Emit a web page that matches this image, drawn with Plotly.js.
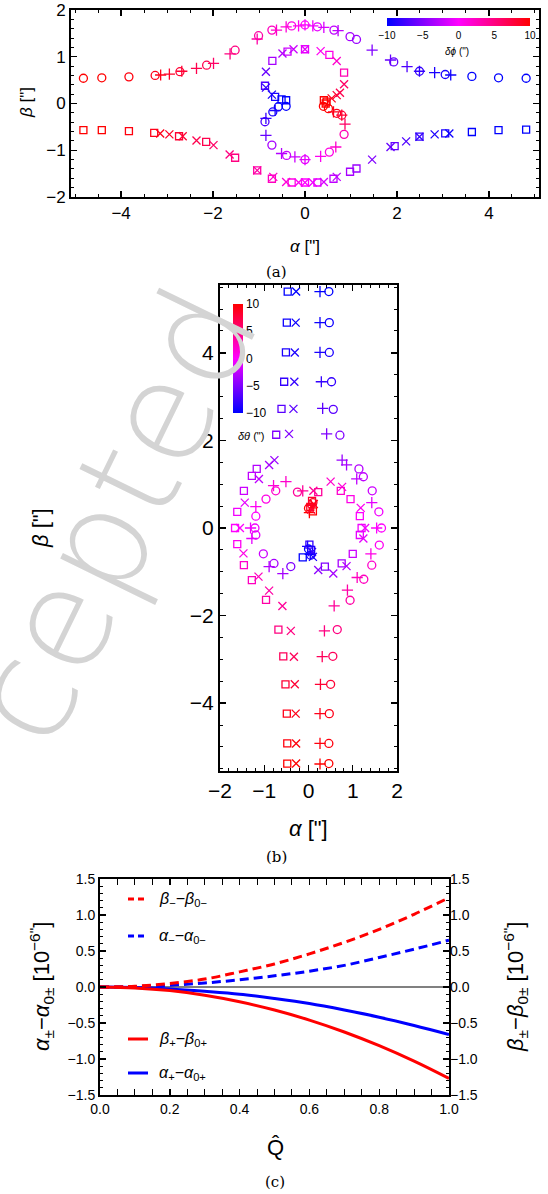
<!DOCTYPE html>
<html>
<head>
<meta charset="utf-8">
<script src="https://cdn.plot.ly/plotly-3.0.1.min.js"></script>
<style>html,body{margin:0;padding:0;background:#fff;}#chart{width:548px;height:1194px;}</style>
</head>
<body>
<div id="chart"></div>
<script>
// ---------- Panel (a): image positions (alpha, beta) and colour value delta-phi ----------
var aCircX = [-4.82,-4.42,-3.83,-3.26,-2.72,-2.14,-1.52,-1.01,-0.72,-0.29,0,0.27,0.63,0.98,1.12,1.93,2.49,3.05,3.63,4.21,4.81, -0.87,-0.72,-0.40,0,0.53,0.85, -0.70,-0.58,-0.41, 0.40,0.51,0.69,0.80];
var aCircY = [0.54,0.55,0.57,0.60,0.68,0.82,1.14,1.45,1.57,1.66,1.68,1.64,1.57,1.43,1.37,0.89,0.69,0.62,0.58,0.55,0.54, -0.39,-0.89,-1.11,-1.20,-1.04,-0.66, -0.18,-0.07,-0.06, -0.06,-0.11,-0.21,-0.25];
var aCircC = [10,10,9.5,9,8,7,5,3.5,2.5,1,0,-1,-2.5,-3.5,-4,-6,-8,-9,-10,-10,-10, -7,-3.5,-2,-1,1,3, -9,-10,-10, 10,10,9,8];

var aPlusX = [-3.14,-2.95,-2.68,-2.36,-1.99,-1.63,-1.04,-0.62,-0.41,-0.14,0,0.17,0.41,0.72,1.46,1.86,2.22,2.49,2.82,3.17, -0.85,-0.51,-0.22,0,0.34,0.67,0.87, -0.85,-0.65, 0.62,0.80];
var aPlusY = [0.61,0.63,0.69,0.75,0.86,1.06,1.38,1.57,1.64,1.66,1.68,1.66,1.63,1.56,1.14,0.93,0.79,0.69,0.66,0.61, -0.68,-1.07,-1.14,-1.20,-1.13,-0.93,-0.44, -0.32,-0.15, -0.18,-0.25];
var aPlusC = [9,8.5,8,7,6,5,3.5,2,1.5,0.5,0,-0.5,-1.5,-2.5,-5,-6,-7,-8,-9,-9.5, -6,-3,-2,-1,0.5,2,6, -8,-9, 9,8];

var aSqX = [-4.82,-4.42,-3.83,-3.28,-2.74,-2.15,-1.52,-1.04,-0.72,-0.29,0,0.27,0.62,0.98,1.12,1.95,2.49,3.05,3.63,4.21,4.81, -0.87,-0.71,-0.38,0,0.53,0.85, -0.65,-0.51,-0.41, 0.41,0.45,0.47];
var aSqY = [-0.57,-0.57,-0.59,-0.63,-0.70,-0.82,-1.16,-1.43,-1.61,-1.69,-1.69,-1.69,-1.61,-1.46,-1.39,-0.91,-0.71,-0.64,-0.61,-0.57,-0.56, 0.38,0.91,1.11,1.16,1.04,0.66, 0.14,0.09,0.07, 0.07,0.0,0.04];
var aSqC = [10,10,9.5,9,8,7,5,3.5,2.5,1,0,-1,-2.5,-3.5,-4,-6,-8,-9,-10,-10,-10, -7,-3.5,-2,-1,1,3, -9,-10,-10, 10,10,10];

var aXX = [-3.15,-2.95,-2.66,-2.36,-1.99,-1.64,-1.04,-0.69,-0.41,-0.14,0,0.17,0.41,0.69,1.46,1.86,2.20,2.49,2.82,3.14, -0.85,-0.49,-0.25,0,0.34,0.69,0.85, -0.85,-0.72, 0.58,0.69,0.76];
var aXY = [-0.64,-0.66,-0.70,-0.79,-0.89,-1.09,-1.43,-1.57,-1.68,-1.69,-1.69,-1.69,-1.68,-1.57,-1.20,-0.93,-0.81,-0.71,-0.66,-0.64, 0.68,1.07,1.16,1.16,1.12,0.91,0.41, 0.34,0.19, 0.11,0.18,0.23];
var aXC = [9,8.5,8,7,6,5,3.5,2,1.5,0.5,0,-0.5,-1.5,-2.5,-5,-6,-7,-8,-9,-9.5, -6,-3,-2,-1,0.5,2,6, -8,-9, 9,8,7];

// ---------- Panel (b): image positions and colour value delta-theta ----------
var bSqX = [-0.47,-0.49,-0.51,-0.55,-0.61,-0.73,-1.17,-1.28,-1.46,-1.61,-1.66,-1.61,-1.46,-1.28,-0.96,-0.68,-0.57,-0.52,-0.49,-0.48,-0.48, 0.22,0.73,0.95,1.16,1.20,1.16,1.00,0.75,0.37, 0.08,0.04,0.10, 0.02,0.06,-0.13];
var bSqY = [5.40,4.69,4.01,3.34,2.72,2.13,1.35,1.19,0.85,0.37,0,-0.37,-0.85,-1.19,-1.64,-2.32,-2.93,-3.57,-4.24,-4.92,-5.38, 0.82,0.85,0.66,0.27,0,-0.16,-0.59,-0.81,-0.88, 0.62,0.48,0.38, -0.38,-0.50,-0.67];
var bSqC = [-10,-9.5,-9,-8,-6.5,-5,-3,-2.5,-2,-0.5,0,0.5,2,2.5,3.5,5,6.5,8,9,9.5,10, 4,2,1,0,-0.5,-1,-2,-3.5,-5, 8,9,10, -8,-9,-10];

var bXX = [-0.28,-0.29,-0.31,-0.32,-0.34,-0.44,-0.77,-0.89,-1.12,-1.44,-1.55,-1.47,-1.13,-0.89,-0.59,-0.40,-0.33,-0.31,-0.29,-0.28,-0.28, 0.11,0.50,0.76,1.18,1.28,1.24,0.86,0.56,0.22, 0.12,0.06, 0.08,0.10];
var bXY = [5.40,4.69,4.01,3.34,2.72,2.15,1.55,1.44,1.12,0.58,0,-0.58,-1.11,-1.43,-1.78,-2.35,-2.94,-3.57,-4.24,-4.92,-5.38, 0.85,1.06,0.94,0.46,0,-0.24,-0.87,-1.04,-0.96, 0.55,0.42, -0.55,-0.66];
var bXC = [-10,-9.5,-9,-8,-6.5,-5,-4,-3.5,-2.5,-1,0,1,2.5,3.5,4,5,6.5,8,9,9.5,10, 4,2,1.5,0.5,-0.5,-1,-3,-3.5,-4.5, 9,8, -8,-9];

var bPlusX = [0.26,0.26,0.26,0.29,0.32,0.41,0.76,0.86,1.09,1.43,1.54,1.41,1.10,0.88,0.58,0.36,0.31,0.27,0.26,0.26,0.26, -0.13,-0.51,-0.79,-1.19,-1.31,-1.28,-0.89,-0.58, 0.02,0.06, -0.02,0.04];
var bPlusY = [5.40,4.69,4.01,3.34,2.73,2.15,1.55,1.44,1.12,0.58,0,-0.59,-1.13,-1.42,-1.78,-2.35,-2.94,-3.57,-4.24,-4.92,-5.39, 0.85,1.06,0.97,0.49,0,-0.24,-0.88,-1.04, 0.35,0.52, -0.42,-0.60];
var bPlusC = [-10,-9.5,-9,-8,-6.5,-5,-4,-3.5,-2.5,-1,0,1,2.5,3.5,4,5,6.5,8,9,9.5,10, 4,2,1.5,0.5,-0.5,-1,-3,-3.5, 10,9, -9,-10];

var bCircX = [0.46,0.47,0.47,0.52,0.56,0.71,1.14,1.24,1.44,1.59,1.65,1.60,1.43,1.25,0.94,0.65,0.55,0.50,0.47,0.46,0.46, -0.25,-0.74,-0.96,-1.19,-1.21,-1.19,-1.02,-0.78,-0.40, 0.00,0.10, 0.00,0.05];
var bCircY = [5.40,4.69,4.01,3.34,2.71,2.12,1.35,1.17,0.85,0.37,0,-0.39,-0.85,-1.17,-1.65,-2.32,-2.93,-3.57,-4.24,-4.92,-5.38, 0.82,0.85,0.66,0.27,0,-0.16,-0.59,-0.81,-0.88, 0.45,0.58, -0.48,-0.62];
var bCircC = [-10,-9.5,-9,-8,-6.5,-5,-3,-2.5,-2,-0.5,0,0.5,2,2.5,3.5,5,6.5,8,9,9.5,10, 4,2,1,0,-0.5,-1,-2,-3.5,-5, 10,9, -10,-9];

// ---------- Panel (c): curves ----------
var qHat       = [0,0.1,0.2,0.3,0.4,0.5,0.6,0.7,0.8,0.9,1.0];
var betaMinus  = [0,0.01,0.05,0.11,0.21,0.32,0.46,0.62,0.80,1.01,1.24];
var alphaMinus = [0,0.006,0.025,0.056,0.10,0.155,0.22,0.30,0.41,0.525,0.65];
var betaPlus   = [0,-0.013,-0.05,-0.115,-0.205,-0.32,-0.46,-0.625,-0.815,-1.03,-1.27];
var alphaPlus  = [0,-0.007,-0.027,-0.06,-0.10,-0.16,-0.23,-0.32,-0.42,-0.535,-0.66];

var colorScale = [[0,'rgb(0,0,255)'],[0.5,'rgb(255,0,255)'],[1,'rgb(255,0,0)']];

function pts(x, y, c, sym, xa, ya, cax, sz) {
  return {type:'scatter', mode:'markers', x:x, y:y, xaxis:xa, yaxis:ya, showlegend:false,
    hoverinfo:'skip',
    marker:{symbol:sym, size:sz, color:c, coloraxis:cax, line:{width:1.3}}};
}
function curve(x, y, ya, color, dash) {
  var ln = {color:color, width:3, shape:'spline'};
  if (dash) ln.dash = dash;
  return {type:'scatter', mode:'lines', x:x, y:y, xaxis:'x3', yaxis:ya, showlegend:false, hoverinfo:'skip', line:ln};
}

var traces = [
  pts(aCircX, aCircY, aCircC, 'circle-open', 'x', 'y', 'coloraxis', 8),
  pts(aPlusX, aPlusY, aPlusC, 'cross-thin-open', 'x', 'y', 'coloraxis', 8),
  pts(aSqX, aSqY, aSqC, 'square-open', 'x', 'y', 'coloraxis', 7),
  pts(aXX, aXY, aXC, 'x-thin-open', 'x', 'y', 'coloraxis', 8),
  pts(bCircX, bCircY, bCircC, 'circle-open', 'x2', 'y2', 'coloraxis2', 8),
  pts(bPlusX, bPlusY, bPlusC, 'cross-thin-open', 'x2', 'y2', 'coloraxis2', 8),
  pts(bSqX, bSqY, bSqC, 'square-open', 'x2', 'y2', 'coloraxis2', 7),
  pts(bXX, bXY, bXC, 'x-thin-open', 'x2', 'y2', 'coloraxis2', 8),
  curve(qHat, betaMinus, 'y4', 'rgb(255,0,0)', '9px,5px'),
  curve(qHat, alphaMinus, 'y3', 'rgb(0,0,255)', '9px,5px'),
  curve(qHat, betaPlus, 'y4', 'rgb(255,0,0)', null),
  curve(qHat, alphaPlus, 'y3', 'rgb(0,0,255)', null)
];

var W = 548, H = 1194;
function px(v){ return v / W; }
function py(v){ return 1 - v / H; }
var FONT = 'Liberation Sans, Arial, sans-serif';

function frameAxis(extra) {
  var base = {showline:true, linecolor:'black', linewidth:2, mirror:'allticks',
    ticks:'inside', ticklen:6, tickwidth:1.4, tickcolor:'black',
    showgrid:false, zeroline:false, fixedrange:true,
    tickfont:{family:FONT, color:'black'}};
  for (var k in extra) base[k] = extra[k];
  return base;
}

var layout = {
  width:W, height:H, margin:{l:0,r:0,t:0,b:0}, paper_bgcolor:'white', plot_bgcolor:'rgba(0,0,0,0)',
  showlegend:false,
  xaxis: frameAxis({domain:[px(71),px(539)], range:[-5.09,5.09], anchor:'y', dtick:2, tickfont:{family:FONT,size:17,color:'black'},
    minor:{ticks:'inside', dtick:0.5, ticklen:3, tickcolor:'black', tickwidth:1}}),
  yaxis: frameAxis({domain:[py(197),py(10)], range:[-2,2], anchor:'x', dtick:1, tickfont:{family:FONT,size:17,color:'black'},
    minor:{ticks:'inside', dtick:0.2, ticklen:3, tickcolor:'black', tickwidth:1}}),
  xaxis2: frameAxis({domain:[px(220),px(397)], range:[-2,2], anchor:'y2', dtick:1, tickfont:{family:FONT,size:21,color:'black'},
    minor:{ticks:'inside', dtick:0.2, ticklen:3, tickcolor:'black', tickwidth:1}}),
  yaxis2: frameAxis({domain:[py(771),py(285)], range:[-5.55,5.55], anchor:'x2', dtick:2, tickfont:{family:FONT,size:21,color:'black'},
    minor:{ticks:'inside', dtick:0.5, ticklen:3, tickcolor:'black', tickwidth:1}}),
  xaxis3: frameAxis({domain:[px(100),px(449)], range:[0,1], anchor:'y3', dtick:0.2, tickformat:'.1f', tickfont:{family:FONT,size:14,color:'black'},
    minor:{ticks:'inside', dtick:0.05, ticklen:3, tickcolor:'black', tickwidth:1}}),
  yaxis3: frameAxis({domain:[py(1095),py(879)], range:[-1.5,1.5], anchor:'x3', dtick:0.5, tickformat:'.1f', tickfont:{family:FONT,size:14,color:'black'},
    zeroline:true, zerolinecolor:'#808080', zerolinewidth:1.5,
    minor:{ticks:'inside', dtick:0.1, ticklen:3, tickcolor:'black', tickwidth:1}}),
  yaxis4: {overlaying:'y3', side:'right', anchor:'x3', range:[-1.5,1.5], dtick:0.5, tickformat:'.1f',
    showline:false, showgrid:false, zeroline:false, ticks:'inside', ticklen:6, tickwidth:1.4, tickcolor:'black',
    tickfont:{family:FONT,size:14,color:'black'}, fixedrange:true},
  coloraxis: {colorscale:colorScale, cmin:-10, cmax:10,
    colorbar:{orientation:'h', x:px(458.5), xanchor:'center', y:py(18), yanchor:'top', len:143/W, lenmode:'fraction',
      thickness:8, outlinewidth:0, ticks:'', tickvals:[-10,-5,0,5,10], xpad:0, ypad:0,
      tickfont:{family:FONT, size:10, color:'black'}}},
  coloraxis2: {colorscale:colorScale, cmin:-10, cmax:10,
    colorbar:{x:px(233), xanchor:'left', y:py(304), yanchor:'top', len:109/H, lenmode:'fraction',
      thickness:10, outlinewidth:0, ticks:'', tickvals:[-10,-5,0,5,10], xpad:0, ypad:0,
      tickfont:{family:FONT, size:12, color:'black'}}},
  shapes: [
    {type:'line', xref:'paper', yref:'paper', x0:px(128), x1:px(148), y0:py(899), y1:py(899), line:{color:'rgb(255,0,0)', width:3, dash:'6px,4px'}},
    {type:'line', xref:'paper', yref:'paper', x0:px(128), x1:px(148), y0:py(936), y1:py(936), line:{color:'rgb(0,0,255)', width:3, dash:'6px,4px'}},
    {type:'line', xref:'paper', yref:'paper', x0:px(128), x1:px(148), y0:py(1039), y1:py(1039), line:{color:'rgb(255,0,0)', width:3}},
    {type:'line', xref:'paper', yref:'paper', x0:px(128), x1:px(148), y0:py(1073), y1:py(1073), line:{color:'rgb(0,0,255)', width:3}}
  ],
  annotations: []
};

function ann(text, x, y, size, opts) {
  var a = {text:text, xref:'paper', yref:'paper', x:px(x), y:py(y), xanchor:'center', yanchor:'middle',
    showarrow:false, font:{family:FONT, size:size, color:'black'}};
  if (opts) for (var k in opts) a[k] = opts[k];
  return a;
}

var SERIF = 'DejaVu Serif, Liberation Serif, serif';
layout.annotations.push(
  ann('cepted', 112, 515, 140, {textangle:-64, font:{family:'DejaVu Sans, sans-serif', size:140, weight:200, color:'#d4d4d4'}}),
  ann('<i>β</i> ["]', 27, 103, 17, {textangle:-90}),
  ann('<i>α</i> ["]', 305, 246, 17),
  ann('(a)', 276, 272, 15, {font:{family:SERIF, size:15, color:'black'}}),
  ann('<i>δϕ</i> (")', 457, 51, 10),
  ann('<i>β</i> ["]', 40, 528, 22, {textangle:-90}),
  ann('<i>α</i> ["]', 308, 828, 22),
  ann('(b)', 276, 857, 15, {font:{family:SERIF, size:15, color:'black'}}),
  ann('<i>δθ</i> (")', 251, 436, 11),
  ann('<i>α</i><sub>±</sub>−<i>α</i><sub>0±</sub> [10<sup>−6"</sup>]', 41, 987, 22, {textangle:-90}),
  ann('<i>β</i><sub>±</sub>−<i>β</i><sub>0±</sub> [10<sup>−6"</sup>]', 515, 987, 22, {textangle:-90}),
  ann('Q̂', 275, 1147, 22),
  ann('(c)', 275, 1182, 15, {font:{family:SERIF, size:15, color:'black'}}),
  ann('<i>β</i><sub>−</sub>−<i>β</i><sub>0−</sub>', 157, 899, 16, {xanchor:'left'}),
  ann('<i>α</i><sub>−</sub>−<i>α</i><sub>0−</sub>', 157, 936, 16, {xanchor:'left'}),
  ann('<i>β</i><sub>+</sub>−<i>β</i><sub>0+</sub>', 157, 1039, 16, {xanchor:'left'}),
  ann('<i>α</i><sub>+</sub>−<i>α</i><sub>0+</sub>', 157, 1073, 16, {xanchor:'left'})
);

Plotly.newPlot('chart', traces, layout, {displayModeBar:false, staticPlot:true});
</script>
</body>
</html>
